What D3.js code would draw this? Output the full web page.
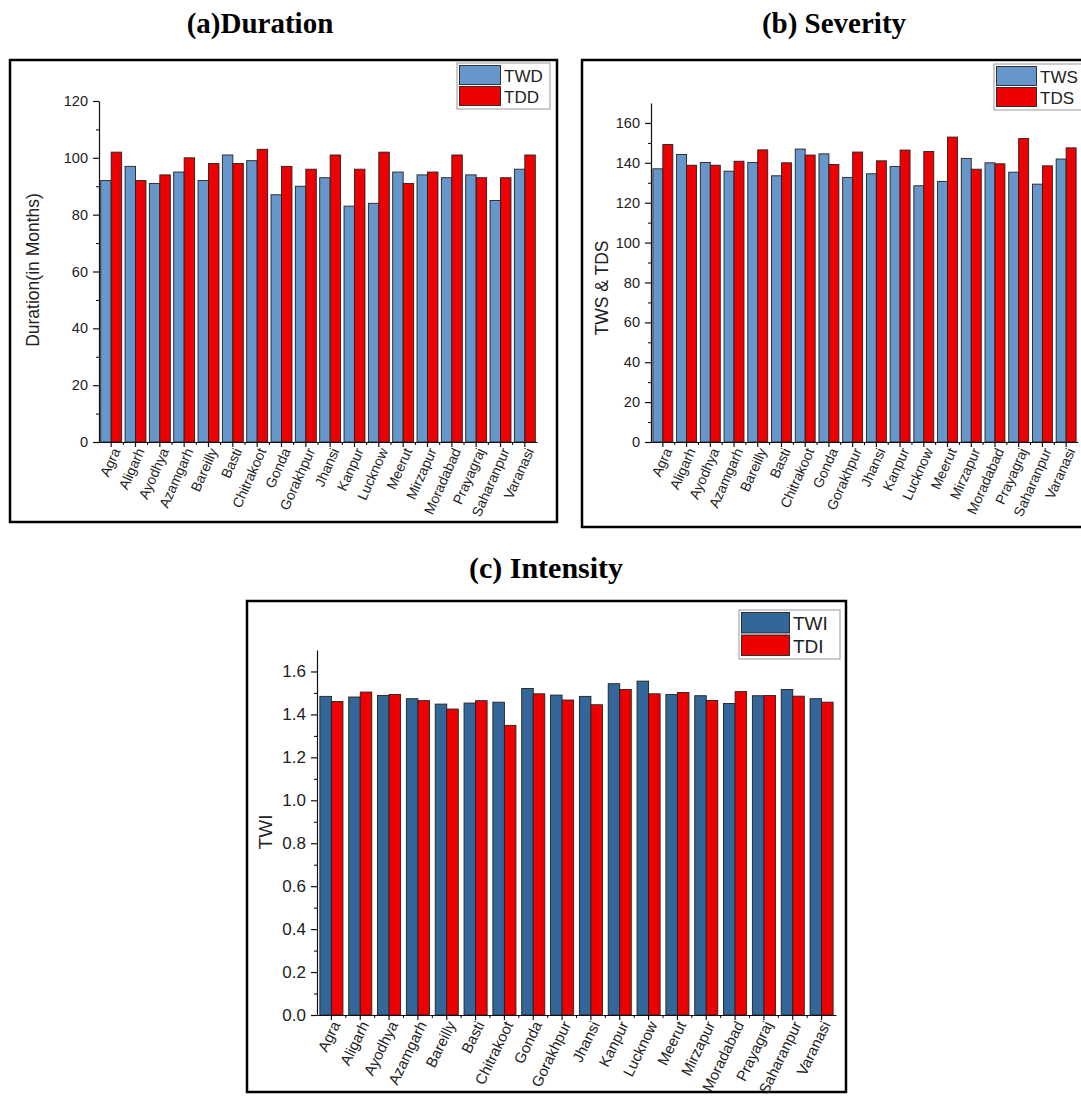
<!DOCTYPE html>
<html>
<head>
<meta charset="utf-8">
<script src="https://cdn.jsdelivr.net/npm/d3@7"></script>
<style>
  body { margin: 0; background: #fff; }
  svg { display: block; }
  .tick text { fill: #222; }
</style>
</head>
<body>
<svg id="chart" width="1081" height="1101"></svg>
<script>
/* Drought duration / severity / intensity per district */

const districts = ['Agra', 'Aligarh', 'Ayodhya', 'Azamgarh', 'Bareilly', 'Basti', 'Chitrakoot',
  'Gonda', 'Gorakhpur', 'Jhansi', 'Kanpur', 'Lucknow', 'Meerut', 'Mirzapur', 'Moradabad',
  'Prayagraj', 'Saharanpur', 'Varanasi'];

// (a) duration in months
const twd = [92, 97, 91, 95, 92, 101, 99, 87, 90, 93, 83, 84, 95, 94, 93, 94, 85, 96];
const tdd = [102, 92, 94, 100, 98, 98, 103, 97, 96, 101, 96, 102, 91, 95, 101, 93, 93, 101];

// (b) severity
const tws = [137, 144.2, 140.2, 135.8, 140.2, 133.5, 146.9, 144.5, 132.7, 134.5, 138.2, 128.5,
  130.7, 142.2, 140, 135.3, 129.3, 141.9];
const tds = [149.2, 138.8, 138.8, 140.8, 146.5, 140, 143.9, 139.2, 145.4, 141, 146.4, 145.7,
  152.9, 136.8, 139.5, 152.2, 138.5, 147.5];

// (c) intensity
const twi = [1.484, 1.481, 1.488, 1.473, 1.448, 1.453, 1.457, 1.521, 1.490, 1.484, 1.543, 1.555,
  1.493, 1.487, 1.451, 1.487, 1.516, 1.473];
const tdi = [1.460, 1.504, 1.493, 1.464, 1.425, 1.464, 1.349, 1.496, 1.467, 1.445, 1.516, 1.496,
  1.502, 1.465, 1.506, 1.488, 1.485, 1.457];

const RED = '#ee0000';
const svg = d3.select('#chart');

function drawPanel(cfg) {
  const g = svg.append('g');

  // outer frame
  g.append('rect')
    .attr('x', cfg.frame[0]).attr('y', cfg.frame[1])
    .attr('width', cfg.frame[2]).attr('height', cfg.frame[3])
    .attr('fill', 'none').attr('stroke', '#000').attr('stroke-width', 2.5);

  g.append('text')
    .attr('x', cfg.title[0]).attr('y', cfg.title[1])
    .attr('text-anchor', 'middle')
    .attr('font-family', '"Liberation Serif", "Times New Roman", serif')
    .attr('font-weight', 'bold').attr('font-size', cfg.titleSize)
    .text(cfg.titleText);

  const x = d3.scaleBand().domain(districts)
    .range([cfg.left, cfg.right])
    .paddingInner(cfg.pad).paddingOuter(cfg.pad / 2);
  const xs = d3.scaleBand().domain([0, 1]).range([0, x.bandwidth()]);
  const y = d3.scaleLinear().domain([0, cfg.yMax]).range([cfg.bottom, cfg.top]);

  const rows = districts.map((d, i) => ({ name: d, vals: [cfg.s1[i], cfg.s2[i]] }));
  const colors = [cfg.c1, RED];

  g.append('g').selectAll('g').data(rows).join('g')
    .attr('transform', d => `translate(${x(d.name)},0)`)
    .selectAll('rect').data(d => d.vals).join('rect')
    .attr('x', (v, j) => xs(j))
    .attr('width', xs.bandwidth())
    .attr('y', v => y(v))
    .attr('height', v => cfg.bottom - y(v))
    .attr('fill', (v, j) => colors[j])
    .attr('stroke', '#222').attr('stroke-width', 0.9);

  // y axis: major + minor ticks
  const yAxis = g.append('g').attr('transform', `translate(${cfg.left},0)`)
    .call(d3.axisLeft(y).tickValues(d3.range(0, cfg.yMax + 1e-9, cfg.yStep))
      .tickSize(6).tickPadding(5).tickSizeOuter(0)
      .tickFormat(cfg.yFmt));
  yAxis.selectAll('text').attr('font-size', cfg.tickSize)
    .attr('font-family', 'Arial, "Liberation Sans", sans-serif');
  g.append('g').attr('transform', `translate(${cfg.left},0)`)
    .call(d3.axisLeft(y).tickValues(d3.range(cfg.yStep / 2, cfg.yMax, cfg.yStep))
      .tickSize(3).tickFormat('').tickSizeOuter(0))
    .select('.domain').remove();

  // x axis
  const xAxis = g.append('g').attr('transform', `translate(0,${cfg.bottom})`)
    .call(d3.axisBottom(x).tickSize(5).tickSizeOuter(0));
  xAxis.selectAll('text')
    .attr('font-size', cfg.labelSize)
    .attr('font-family', 'Arial, "Liberation Sans", sans-serif')
    .attr('text-anchor', 'end')
    .attr('dx', '-0.3em').attr('dy', '0.3em')
    .attr('transform', `rotate(${cfg.labelAngle})`);
  // minor ticks between groups
  g.append('g').selectAll('line').data(districts.slice(1)).join('line')
    .attr('x1', d => x(d) - x.step() * cfg.pad / 2).attr('x2', d => x(d) - x.step() * cfg.pad / 2)
    .attr('y1', cfg.bottom).attr('y2', cfg.bottom + 3)
    .attr('stroke', '#000');

  [yAxis, xAxis].forEach(a => a.selectAll('.domain, line').attr('stroke', '#111').attr('stroke-width', 1.2));

  g.append('text')
    .attr('transform', `translate(${cfg.yLabel[0]},${cfg.yLabel[1]}) rotate(-90)`)
    .attr('text-anchor', 'middle').attr('dy', '0.35em')
    .attr('font-family', 'Arial, "Liberation Sans", sans-serif')
    .attr('font-size', cfg.yLabelSize).attr('fill', '#222')
    .text(cfg.yLabelText);

  // legend
  const L = cfg.legend;
  const lg = g.append('g').attr('transform', `translate(${L.x},${L.y})`);
  lg.append('rect').attr('width', L.w).attr('height', L.h)
    .attr('fill', '#fff').attr('stroke', '#999').attr('stroke-width', 1);
  cfg.names.forEach((n, j) => {
    lg.append('rect')
      .attr('x', 2.5).attr('y', 2.5 + j * (L.h - 4) / 2)
      .attr('width', L.sw).attr('height', (L.h - 4) / 2 - 2)
      .attr('fill', colors[j]).attr('stroke', '#222').attr('stroke-width', 0.9);
    lg.append('text')
      .attr('x', L.sw + 6).attr('y', 2 + (j + 0.5) * (L.h - 4) / 2)
      .attr('dy', '0.36em')
      .attr('font-family', 'Arial, "Liberation Sans", sans-serif')
      .attr('font-size', L.fs).attr('fill', '#222')
      .text(n);
  });
}

drawPanel({
  frame: [10, 60, 547, 462], title: [260, 33], titleText: '(a)Duration', titleSize: 29,
  left: 99, right: 537, top: 101, bottom: 442, pad: 0.14,
  yMax: 120, yStep: 20, yFmt: d3.format('d'), tickSize: 14.5, labelSize: 14, labelAngle: -66,
  s1: twd, s2: tdd, c1: '#6796cb', names: ['TWD', 'TDD'],
  yLabel: [33, 270], yLabelText: 'Duration(in Months)', yLabelSize: 17.5,
  legend: { x: 457, y: 63, w: 93, h: 46, sw: 41, fs: 17 }
});

drawPanel({
  frame: [582, 60, 510, 467], title: [834, 33], titleText: '(b) Severity', titleSize: 29,
  left: 651, right: 1078, top: 103, bottom: 442, pad: 0.16,
  yMax: 170, yStep: 20, yFmt: d3.format('d'), tickSize: 14.5, labelSize: 14, labelAngle: -66,
  s1: tws, s2: tds, c1: '#6796cb', names: ['TWS', 'TDS'],
  yLabel: [602, 288], yLabelText: 'TWS & TDS', yLabelSize: 17.5,
  legend: { x: 994, y: 64, w: 90, h: 46, sw: 40, fs: 17 }
});

drawPanel({
  frame: [247, 601, 599, 491], title: [546, 578], titleText: '(c) Intensity', titleSize: 30,
  left: 317, right: 836, top: 650, bottom: 1015, pad: 0.2,
  yMax: 1.7, yStep: 0.2, yFmt: d3.format('.1f'), tickSize: 17, labelSize: 15, labelAngle: -64,
  s1: twi, s2: tdi, c1: '#336699', names: ['TWI', 'TDI'],
  yLabel: [265, 832], yLabelText: 'TWI', yLabelSize: 19,
  legend: { x: 739, y: 610, w: 101, h: 49, sw: 48, fs: 19 }
});
</script>
</body>
</html>
